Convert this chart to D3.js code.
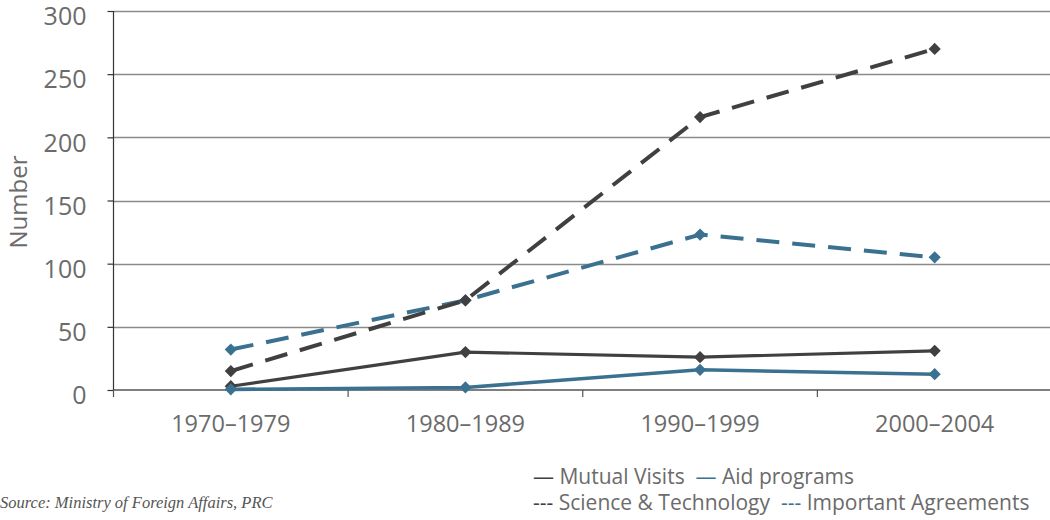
<!DOCTYPE html>
<html><head><meta charset="utf-8">
<script src="https://cdn.jsdelivr.net/npm/d3@7"></script>
<style>body{margin:0;background:#fff}svg{display:block}text{white-space:pre}</style>
</head><body><svg id="c" width="1050" height="520"></svg>
<script>
const categories = ["1970–1979","1980–1989","1990–1999","2000–2004"];
const mutualVisits = [3, 30, 26, 31];
const aidPrograms = [0.5, 2, 16, 12.5];
const scienceTech = [15, 71, 216, 270];
const agreements = [32, 71, 123, 105];
const yTicks = [0,50,100,150,200,250,300];
const legendRow1 = ["Mutual Visits","Aid programs"];
const legendRow2 = ["Science & Technology","Important Agreements"];

(function(){
const dark = "#404040", blue = "#3b7190";
const series = [
  {name:"Important Agreements", values:agreements, color:blue, dash:"23,13", w:4},
  {name:"Science & Technology", values:scienceTech, color:dark, dash:"23,13", w:4},
  {name:"Mutual Visits", values:mutualVisits, color:dark, dash:null, w:3.2},
  {name:"Aid programs", values:aidPrograms, color:blue, dash:null, w:3.6}
];

const svg = d3.select("#c");
const mLeft = 113.5, mRight = 1052, mTop = 11, mBottom = 390;
const x = d3.scaleBand().domain(categories).range([mLeft, mRight]);
const y = d3.scaleLinear().domain([0,300]).range([mBottom, mTop]);
const font = "'Open Sans', 'Noto Sans', sans-serif";
const grey = "#6b6b6b";

// gridlines
svg.append("g").selectAll("line").data(yTicks.slice(1)).join("line")
  .attr("x1", mLeft).attr("x2", 1050)
  .attr("y1", d=>Math.round(y(d))+0.5).attr("y2", d=>Math.round(y(d))+0.5)
  .attr("stroke","#8a8a8a").attr("stroke-width",1.5);

// y axis
const ya = svg.append("g").attr("transform",`translate(${mLeft},0)`)
  .call(d3.axisLeft(y).tickValues(yTicks).tickSize(6).tickPadding(21));
ya.select(".domain").attr("stroke","#333").attr("stroke-width",1.2).attr("d",`M0,${mTop}V${mBottom}`);
ya.selectAll(".tick line").attr("stroke","#333").attr("stroke-width",1.2);
ya.selectAll(".tick text").attr("font-family",font).attr("font-size",25).attr("fill",grey).attr("dy","0.55em");

// x axis
const xa = svg.append("g").attr("transform",`translate(0,${mBottom})`)
  .call(d3.axisBottom(x).tickSize(0).tickPadding(25));
xa.select(".domain").attr("stroke","#555").attr("stroke-width",1.5).attr("d",`M${mLeft},0H1050`);
xa.selectAll(".tick text").attr("font-family",font).attr("font-size",23.5).attr("fill",grey);
const bounds = categories.map(c=>x(c));
xa.selectAll(".bt").data(bounds).join("line").attr("class","bt")
  .attr("x1",d=>d).attr("x2",d=>d).attr("y1",0).attr("y2",7)
  .attr("stroke","#555").attr("stroke-width",1.2);

// y title
svg.append("text").attr("transform","translate(27,202) rotate(-90)")
  .attr("text-anchor","middle").attr("font-family",font).attr("font-size",24)
  .attr("fill",grey).text("Number");

// lines
const line = d3.line().x((d,i)=>x(categories[i])+x.bandwidth()/2).y(d=>y(d));
series.forEach(s=>{
  svg.append("path").datum(s.values).attr("d",line).attr("fill","none")
    .attr("stroke",s.color).attr("stroke-width",s.w)
    .attr("stroke-dasharray",s.dash).attr("stroke-linejoin","round");
  svg.append("g").selectAll("path").data(s.values).join("path")
    .attr("transform",(d,i)=>`translate(${x(categories[i])+x.bandwidth()/2},${y(d)})`)
    .attr("d",d3.symbol(d3.symbolDiamond2,95)).attr("fill",s.color);
});

// legend
const lg = svg.append("g").attr("font-family",font).attr("font-size",21).attr("fill",grey);
const r1 = lg.append("text").attr("x",533).attr("y",484);
r1.append("tspan").attr("fill",dark).text("—");
r1.append("tspan").text(" "+legendRow1[0]+"  ");
r1.append("tspan").attr("fill",blue).text("—");
r1.append("tspan").text(" "+legendRow1[1]);
const r2 = lg.append("text").attr("x",533).attr("y",510);
r2.append("tspan").attr("fill",dark).text("---");
r2.append("tspan").text(" "+legendRow2[0]+"  ");
r2.append("tspan").attr("fill",blue).text("---");
r2.append("tspan").text(" "+legendRow2[1]);

// source
svg.append("text").attr("x",0).attr("y",508).attr("font-family","'Liberation Serif', serif")
  .attr("font-style","italic").attr("font-size",16.5).attr("fill","#555")
  .text("Source: Ministry of Foreign Affairs, PRC");
})();
</script></body></html>
